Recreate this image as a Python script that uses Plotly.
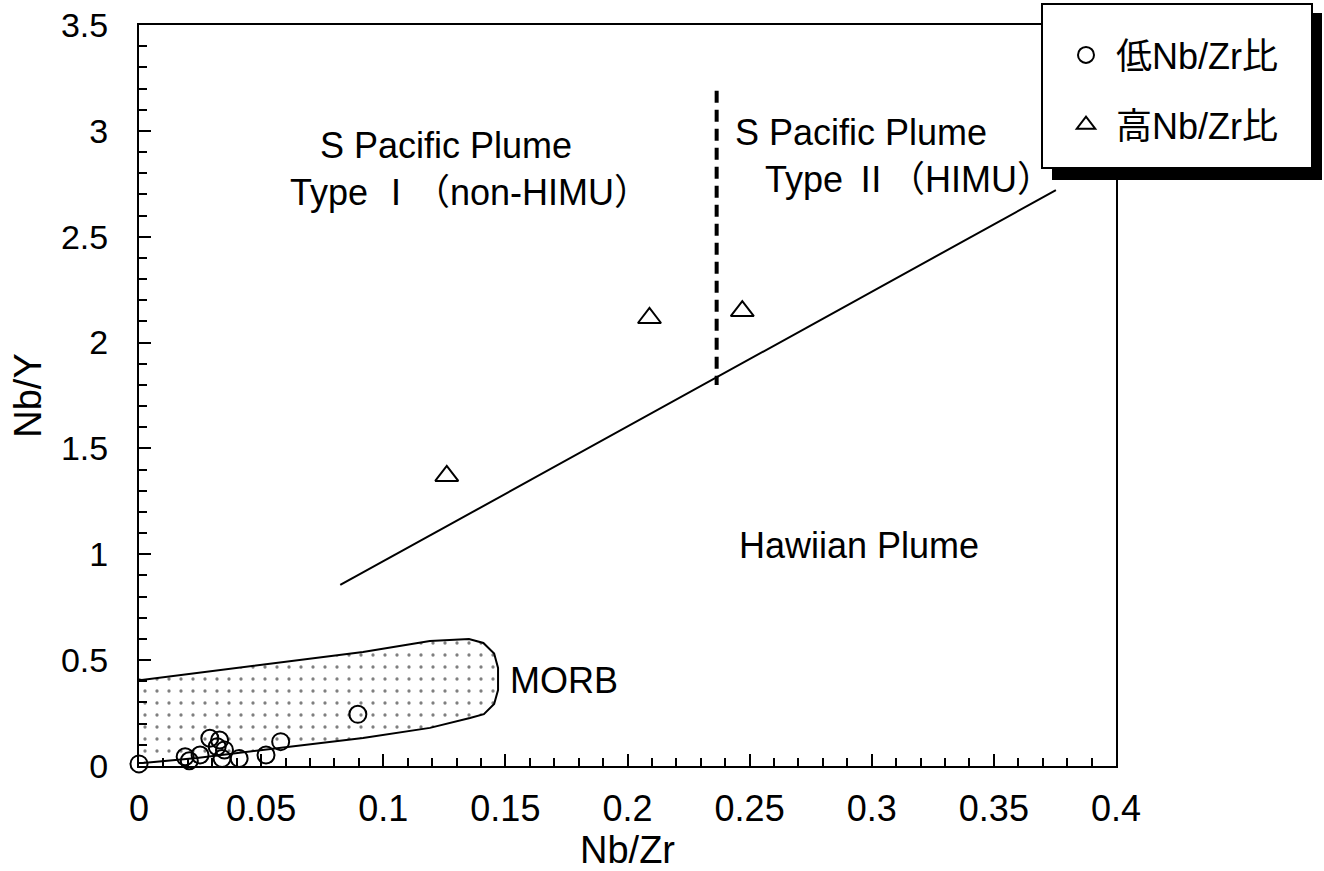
import plotly.graph_objects as go

# ---- data ----
low_x = [0.0, 0.0206, 0.0189, 0.025, 0.029, 0.033, 0.032, 0.035, 0.034, 0.041, 0.052, 0.058, 0.0896]
low_y = [0.01, 0.025, 0.044, 0.052, 0.131, 0.123, 0.091, 0.076, 0.036, 0.036, 0.052, 0.115, 0.244]

high_x = [0.126, 0.209, 0.247]
high_y = [1.37, 2.116, 2.149]

# boundary between S Pacific plume and Hawaiian plume fields
bound_x = [0.0824, 0.3754]
bound_y = [0.855, 2.72]

# Type I / Type II divider
div_x = [0.2365, 0.2365]
div_y = [3.19, 1.80]

# MORB field outline
morb_x = [-0.0024, -0.0024, 0.0011, 0.0508, 0.0917, 0.1191, 0.1351, 0.1410, 0.1454, 0.1470,
          0.1470, 0.1454, 0.1412, 0.1355, 0.1191, 0.0917, 0.0577, 0.0237, 0.0016, -0.0024]
morb_y = [0.014, 0.415, 0.406, 0.477, 0.539, 0.590, 0.600, 0.581, 0.531, 0.463,
          0.359, 0.293, 0.245, 0.227, 0.180, 0.132, 0.085, 0.038, 0.014, 0.014]

x_ticks = [0, 0.05, 0.1, 0.15, 0.2, 0.25, 0.3, 0.35, 0.4]
x_labels = ["0", "0.05", "0.1", "0.15", "0.2", "0.25", "0.3", "0.35", "0.4"]
y_ticks = [0, 0.5, 1, 1.5, 2, 2.5, 3, 3.5]
y_labels = ["0", "0.5", "1", "1.5", "2", "2.5", "3", "3.5"]

NB = "\u00a0"
labels = [
    (NB * 3 + "S Pacific Plume<br>Type Ⅰ（non-HIMU）", 0.0610, 2.82),
    ("S Pacific Plume<br>" + NB * 3 + "Type Ⅱ（HIMU）", 0.2430, 2.88),
    ("Hawiian Plume", 0.2947, 1.04),
    ("MORB", 0.1742, 0.406),
]

FONT = "Liberation Sans, Arial, Noto Sans CJK JP, sans-serif"

fig = go.Figure()

fig.add_trace(go.Scatter(
    x=morb_x, y=morb_y, mode="lines", fill="toself",
    line=dict(color="black", width=2),
    fillcolor="white",
    fillpattern=dict(shape=".", size=12, solidity=0.06, fgcolor="black", bgcolor="white"),
    showlegend=False, hoverinfo="skip"))

fig.add_trace(go.Scatter(
    x=bound_x, y=bound_y, mode="lines",
    line=dict(color="black", width=2), showlegend=False))

fig.add_trace(go.Scatter(
    x=div_x, y=div_y, mode="lines",
    line=dict(color="black", width=4, dash="12px,7px"), showlegend=False))

fig.add_trace(go.Scatter(
    x=low_x, y=low_y, mode="markers", name=" 低Nb/Zr比", legendgroup="a",
    marker=dict(symbol="circle-open", size=17, color="black", line=dict(width=2, color="black")),
    cliponaxis=False))

fig.add_trace(go.Scatter(
    x=high_x, y=high_y, mode="markers", name=" 高Nb/Zr比", legendgroup="b",
    marker=dict(symbol="triangle-up-open", size=20, color="black", line=dict(width=2, color="black")),
    cliponaxis=False))

for txt, x, y in labels:
    multi = "<br>" in txt
    fig.add_annotation(x=x, y=y, text=txt, showarrow=False,
                       xanchor="left" if multi else "center", yanchor="middle",
                       align="left",
                       font=dict(size=36, color="black", family=FONT))

# legend box with drop shadow (paper coords)
L, R, T = 139, 1116, 25
B = 766
W = R - L
H = B - T
def px(x):
    return (x - L) / W
def py(y):
    return (B - y) / H

fig.add_shape(type="rect", xref="paper", yref="paper",
              x0=px(1052), x1=px(1322), y0=py(180), y1=py(13),
              fillcolor="black", line=dict(width=0), layer="above")
fig.add_shape(type="rect", xref="paper", yref="paper",
              x0=px(1042), x1=px(1312), y0=py(168), y1=py(4),
              fillcolor="white", line=dict(color="black", width=2), layer="above")

fig.update_layout(
    width=1324, height=871,
    margin=dict(l=L, r=1324 - R, t=T, b=871 - B, autoexpand=False),
    paper_bgcolor="white", plot_bgcolor="white",
    font=dict(family=FONT, size=34, color="black"),
    legend=dict(x=px(1066), y=py(25), xanchor="left", yanchor="top",
                bgcolor="rgba(0,0,0,0)", borderwidth=0,
                font=dict(size=36, family=FONT), tracegroupgap=20),
    xaxis=dict(range=[0, 0.4], tickvals=x_ticks, ticktext=x_labels,
               ticks="inside", ticklen=12, tickwidth=2, tickcolor="black",
               minor=dict(dtick=0.01, ticks="inside", ticklen=8, tickwidth=1.5, tickcolor="black"),
               showline=True, linecolor="black", linewidth=2, mirror=True,
               showgrid=False, zeroline=False, ticklabelstandoff=10,
               tickfont=dict(size=36),
               title=dict(text="Nb/Zr", font=dict(size=38), standoff=0)),
    yaxis=dict(range=[0, 3.5], tickvals=y_ticks, ticktext=y_labels,
               ticks="inside", ticklen=12, tickwidth=2, tickcolor="black",
               minor=dict(dtick=0.1, ticks="inside", ticklen=8, tickwidth=1.5, tickcolor="black"),
               showline=True, linecolor="black", linewidth=2, mirror=True,
               showgrid=False, zeroline=False, ticklabelstandoff=22,
               tickfont=dict(size=34),
               title=dict(text="Nb/Y", font=dict(size=38), standoff=8)),
)

fig.write_html("out.html")
